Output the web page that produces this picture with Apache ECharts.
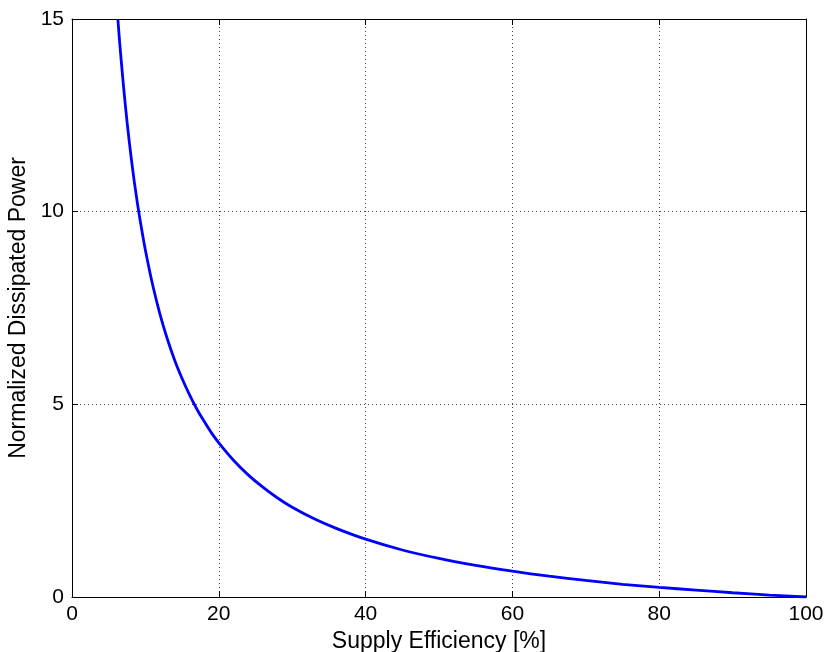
<!DOCTYPE html>
<html>
<head>
<meta charset="utf-8">
<script src="https://cdn.jsdelivr.net/npm/echarts@6/dist/echarts.min.js"></script>
<style>
  html, body { margin: 0; padding: 0; background: #fff; }
  #chart { width: 825px; height: 652px; }
</style>
</head>
<body>
<div id="chart"></div>
<script>
// Supply efficiency (%) and the matching normalized dissipated power
const efficiency = [6.25, 6.5, 7, 7.5, 8, 8.5, 9, 9.5, 10, 11, 12, 13, 14, 15, 16, 17, 18, 19, 20,
  22, 24, 26, 28, 30, 33, 36, 40, 45, 50, 55, 60, 65, 70, 75, 80, 85, 90, 95, 100];
const dissipated = [15, 14.38, 13.29, 12.33, 11.5, 10.76, 10.11, 9.53, 9, 8.09, 7.33, 6.69, 6.14, 5.67, 5.25, 4.88, 4.56, 4.26, 4,
  3.55, 3.17, 2.85, 2.57, 2.33, 2.03, 1.78, 1.5, 1.22, 1, 0.82, 0.67, 0.54, 0.43, 0.33, 0.25, 0.18, 0.11, 0.05, 0];
const xTicks = [0, 20, 40, 60, 80, 100];
const yTicks = [0, 5, 10, 15];

const points = efficiency.map((x, i) => [x, dissipated[i]]);
const font = 'Liberation Sans, Arial, Helvetica, sans-serif';

const chart = echarts.init(document.getElementById('chart'));
const gridLine = { show: true, lineStyle: { color: '#444', type: [1, 3], width: 1 } };
const boxLine = { show: true, onZero: false, lineStyle: { color: '#000', width: 1 } };
const tick = { show: true, inside: true, length: 6, lineStyle: { color: '#000' } };

chart.setOption({
  animation: false,
  backgroundColor: '#fff',
  grid: { left: 72, right: 19, top: 19, bottom: 55, containLabel: false, outerBoundsMode: 'none' },
  xAxis: [
    {
      type: 'value', min: xTicks[0], max: xTicks[xTicks.length - 1], interval: 20,
      position: 'bottom',
      name: 'Supply Efficiency [%]', nameLocation: 'middle', nameGap: 30,
      nameTextStyle: { fontFamily: font, fontSize: 23, color: '#000' },
      axisLine: boxLine, axisTick: tick,
      axisLabel: { fontFamily: font, fontSize: 21, color: '#000', margin: 7 },
      splitLine: gridLine
    },
    {
      type: 'value', min: xTicks[0], max: xTicks[xTicks.length - 1], interval: 20,
      position: 'top',
      axisLine: boxLine, axisTick: tick, axisLabel: { show: false }, splitLine: { show: false }
    }
  ],
  yAxis: [
    {
      type: 'value', min: yTicks[0], max: yTicks[yTicks.length - 1], interval: 5,
      position: 'left',
      name: 'Normalized Dissipated Power', nameLocation: 'middle', nameGap: 41,
      nameTextStyle: { fontFamily: font, fontSize: 23, color: '#000' },
      axisLine: boxLine, axisTick: tick,
      axisLabel: { fontFamily: font, fontSize: 21, color: '#000', margin: 8 },
      splitLine: gridLine
    },
    {
      type: 'value', min: yTicks[0], max: yTicks[yTicks.length - 1], interval: 5,
      position: 'right',
      axisLine: boxLine, axisTick: tick, axisLabel: { show: false }, splitLine: { show: false }
    }
  ],
  series: [{
    type: 'line',
    data: points,
    smooth: 0.3,
    showSymbol: false,
    clip: true,
    lineStyle: { color: '#0000ff', width: 2.8 }
  }]
});
</script>
</body>
</html>
